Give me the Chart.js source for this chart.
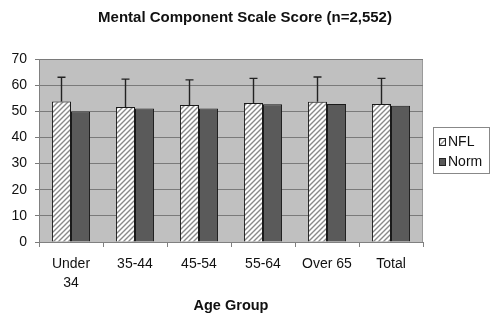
<!DOCTYPE html>
<html><head><meta charset="utf-8">
<script src="https://cdn.jsdelivr.net/npm/chart.js@4/dist/chart.umd.min.js"></script>
<style>html,body{margin:0;padding:0;background:#fff}canvas{display:block}</style>
</head><body>
<canvas id="c" width="490" height="315"></canvas>
<script>
const categories = [["Under", "34"], "35-44", "45-54", "55-64", "Over 65", "Total"];
const nflValues  = [53.7, 51.6, 52.4, 53.2, 53.6, 52.8];
const nflSD      = [9.3, 10.7, 9.6, 9.4, 9.5, 9.8];
const normValues = [49.9, 51.1, 51.1, 52.7, 52.8, 52.1];
const seriesNames = ["NFL", "Norm"];
const chartTitle = "Mental Component Scale Score (n=2,552)";
const xTitle = "Age Group";

const FONT = "'Liberation Sans', Arial, sans-serif";

function hatch() {
  const s = 5;
  const c = document.createElement('canvas');
  c.width = s; c.height = s;
  const g = c.getContext('2d');
  g.fillStyle = '#ffffff'; g.fillRect(0, 0, s, s);
  g.strokeStyle = '#8a8a8a'; g.lineWidth = 1.4;
  g.beginPath();
  g.moveTo(-1, s + 1); g.lineTo(s + 1, -1);
  g.moveTo(-1, 1); g.lineTo(1, -1);
  g.moveTo(s - 1, s + 1); g.lineTo(s + 1, s - 1);
  g.stroke();
  return g.createPattern(c, 'repeat');
}
const hatchPattern = hatch();

const bgPlugin = {
  id: 'plotBg',
  beforeDraw(chart) {
    const {ctx, chartArea: a} = chart;
    ctx.save();
    ctx.fillStyle = '#c0c0c0';
    ctx.fillRect(a.left, a.top, a.right - a.left, a.bottom - a.top);
    ctx.strokeStyle = '#9a9a9a';
    ctx.lineWidth = 1;
    ctx.strokeRect(a.left + 0.5, a.top + 0.5, a.right - a.left - 1, a.bottom - a.top);
    ctx.restore();
  }
};

const errPlugin = {
  id: 'errBars',
  afterDatasetsDraw(chart) {
    const {ctx} = chart;
    const meta = chart.getDatasetMeta(0);
    const y = chart.scales.y;
    ctx.save();
    ctx.strokeStyle = '#222';
    ctx.lineWidth = 1.4;
    meta.data.forEach((bar, i) => {
      const top = y.getPixelForValue(nflValues[i] + nflSD[i]);
      const x = Math.round(bar.x) + 0.5;
      ctx.beginPath();
      ctx.moveTo(x, bar.y);
      ctx.lineTo(x, top);
      ctx.moveTo(x - 4, top);
      ctx.lineTo(x + 4, top);
      ctx.stroke();
    });
    ctx.restore();
  }
};

const legendPlugin = {
  id: 'boxLegend',
  afterDraw(chart) {
    const {ctx} = chart;
    const bx = 433, by = 127, bw = 56, bh = 46;
    ctx.save();
    ctx.fillStyle = '#fff';
    ctx.fillRect(bx, by, bw, bh);
    ctx.strokeStyle = '#888';
    ctx.lineWidth = 1;
    ctx.strokeRect(bx + 0.5, by + 0.5, bw, bh);
    ctx.font = '14px ' + FONT;
    ctx.textBaseline = 'middle';
    ctx.textAlign = 'left';
    const ys = [142, 162];
    chart.data.datasets.forEach((ds, i) => {
      const yy = ys[i];
      ctx.fillStyle = ds.backgroundColor;
      ctx.fillRect(439, yy - 3.5, 7, 7);
      ctx.strokeStyle = '#222';
      ctx.strokeRect(439.5, yy - 3.5, 6, 7);
      ctx.fillStyle = '#111';
      ctx.fillText(ds.label, 448, yy);
    });
    ctx.restore();
  }
};

new Chart(document.getElementById('c'), {
  type: 'bar',
  data: {
    labels: categories,
    datasets: [
      { label: seriesNames[0], data: nflValues, backgroundColor: hatchPattern, borderColor: '#1a1a1a', borderWidth: 1 },
      { label: seriesNames[1], data: normValues, backgroundColor: '#5a5a5a', borderColor: '#1a1a1a', borderWidth: 1 }
    ]
  },
  options: {
    responsive: false,
    animation: false,
    layout: { padding: 0 },
    datasets: { bar: { barPercentage: 1.0, categoryPercentage: 0.595 } },
    plugins: {
      legend: { display: false },
      tooltip: { enabled: false },
      title: {
        display: true, text: chartTitle, color: '#111',
        font: { family: FONT, size: 15, weight: 'bold', lineHeight: 1.2 },
        padding: { top: 9, bottom: 32 }
      }
    },
    scales: {
      x: {
        afterFit(s) { s.height = 73; },
        grid: { drawOnChartArea: false, drawTicks: true, tickLength: 5, color: '#808080', offset: true },
        border: { display: true, color: '#808080' },
        ticks: { color: '#111', padding: 8, font: { family: FONT, size: 14, lineHeight: 1.35 }, maxRotation: 0, autoSkip: false },
        title: { display: true, text: xTitle, color: '#111', padding: { top: 0, bottom: 0 }, font: { family: FONT, size: 14.5, weight: 'bold', lineHeight: 1.2 } }
      },
      y: {
        min: 0, max: 70,
        afterFit(s) { s.width = 39; },
        grid: { color: '#7a7a7a', tickLength: 4, drawTicks: true },
        border: { display: true, color: '#808080' },
        ticks: { stepSize: 10, color: '#111', padding: 8, font: { family: FONT, size: 14 } }
      },
      yRightSpace: {
        type: 'linear', position: 'right', display: true,
        afterFit(s) { s.width = 67; },
        grid: { display: false, drawTicks: false },
        border: { display: false },
        ticks: { display: false }
      }
    }
  },
  plugins: [bgPlugin, errPlugin, legendPlugin]
});
</script>
</body></html>
